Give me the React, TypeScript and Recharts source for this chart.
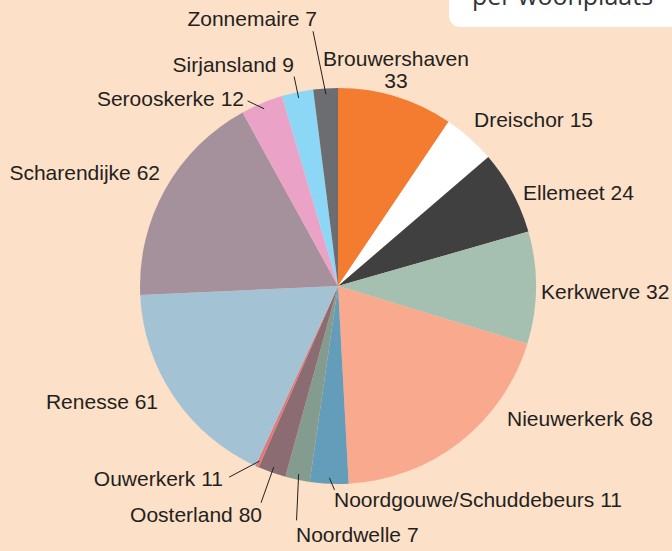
import React from 'react';
import { PieChart, Pie, Cell } from 'recharts';

const places = [
  'Brouwershaven', 'Dreischor', 'Ellemeet', 'Kerkwerve', 'Nieuwerkerk',
  'Noordgouwe/Schuddebeurs', 'Noordwelle', 'Oosterland', 'Ouwerkerk', 'Renesse',
  'Scharendijke', 'Serooskerke', 'Sirjansland', 'Zonnemaire',
];
// slice sizes as drawn in the picture
const sliceValues = [33, 15, 24, 32, 68, 11, 7, 8, 1, 61, 62, 12, 9, 7];
// numbers printed in the labels
const labelNumbers = ['33', '15', '24', '32', '68', '11', '7', '80', '11', '61', '62', '12', '9', '7'];

const colors = [
  '#f47c30', '#ffffff', '#404040', '#a5bfb0', '#f9a98d', '#649db9', '#849b8f',
  '#8c6c73', '#e07a7a', '#a3c3d5', '#a4919c', '#eba2c7', '#8dd7f6', '#6b6d71',
];

// label layout: text offset from pie centre, anchor, optional leader line (angle delta, outer radius)
type Lay = { dx: number; dy: number; anchor: 'start' | 'end' | 'middle'; line?: [number, number]; twoLine?: boolean };
const labelLayout: Lay[] = [
  { dx: 58, dy: -220, anchor: 'middle', twoLine: true },
  { dx: 136, dy: -159, anchor: 'start' },
  { dx: 185, dy: -86, anchor: 'start' },
  { dx: 203, dy: 13, anchor: 'start' },
  { dx: 169, dy: 140, anchor: 'start' },
  { dx: -4, dy: 221, anchor: 'start', line: [1.6, 204] },
  { dx: -42, dy: 256, anchor: 'start', line: [1.8, 238] },
  { dx: -76, dy: 236, anchor: 'end', line: [0, 230] },
  { dx: -115, dy: 200, anchor: 'end', line: [-5.5, 220] },
  { dx: -180, dy: 123, anchor: 'end' },
  { dx: -178, dy: -106, anchor: 'end' },
  { dx: -94, dy: -180, anchor: 'end', line: [3.4, 206] },
  { dx: -44, dy: -214, anchor: 'end', line: [0, 214] },
  { dx: -21, dy: -260, anchor: 'end', line: [2, 256] },
];

const data = places.map((name, i) => ({ name, value: sliceValues[i], label: labelNumbers[i] }));

const RADIAN = Math.PI / 180;
const polar = (cx: number, cy: number, r: number, angle: number) => ({
  x: cx + Math.cos(-angle * RADIAN) * r,
  y: cy + Math.sin(-angle * RADIAN) * r,
});

const textColor = '#231f20';
const fontFamily = '"Liberation Sans", Arial, sans-serif';

const renderLabel = (props: any) => {
  const { cx, cy, midAngle, outerRadius, index } = props;
  const lay = labelLayout[index];
  const d = data[index];
  let line = null;
  if (lay.line) {
    const p1 = polar(cx, cy, outerRadius - 6, midAngle);
    const p2 = polar(cx, cy, lay.line[1], midAngle + lay.line[0]);
    line = <line x1={p1.x} y1={p1.y} x2={p2.x} y2={p2.y} stroke={textColor} strokeWidth={1} />;
  }
  const x = cx + lay.dx;
  const y = cy + lay.dy;
  return (
    <g key={`lbl-${index}`}>
      {line}
      <text x={x} y={y} textAnchor={lay.anchor} fill={textColor} fontSize={21} fontFamily={fontFamily}>
        {lay.twoLine ? (
          <>
            <tspan x={x}>{d.name}</tspan>
            <tspan x={x} dy={22}>{d.label}</tspan>
          </>
        ) : (
          `${d.name} ${d.label}`
        )}
      </text>
    </g>
  );
};

export default function App() {
  return (
    <div
      style={{
        position: 'absolute',
        left: 0,
        top: 0,
        width: 672,
        height: 551,
        background: '#fde0c8',
        overflow: 'hidden',
      }}
    >
      <div
        style={{
          position: 'absolute',
          left: 449,
          top: -30,
          width: 260,
          height: 57,
          background: '#ffffff',
          borderRadius: 11,
        }}
      />
      <div
        style={{
          position: 'absolute',
          left: 472,
          top: -22,
          fontFamily: '"Open Sans", sans-serif',
          fontSize: 25,
          lineHeight: '34px',
          color: '#333333',
          whiteSpace: 'nowrap',
        }}
      >
        per woonplaats
      </div>
      <PieChart width={672} height={551} margin={{ top: 0, right: 0, bottom: 0, left: 0 }} style={{ position: 'absolute', left: 0, top: 0 }}>
        <Pie
          data={data}
          dataKey="value"
          nameKey="name"
          cx={338}
          cy={286}
          outerRadius={198}
          startAngle={90}
          endAngle={-270}
          stroke="none"
          label={renderLabel}
          labelLine={false}
          isAnimationActive={false}
        >
          {data.map((d, i) => (
            <Cell key={d.name} fill={colors[i]} />
          ))}
        </Pie>
      </PieChart>
    </div>
  );
}
